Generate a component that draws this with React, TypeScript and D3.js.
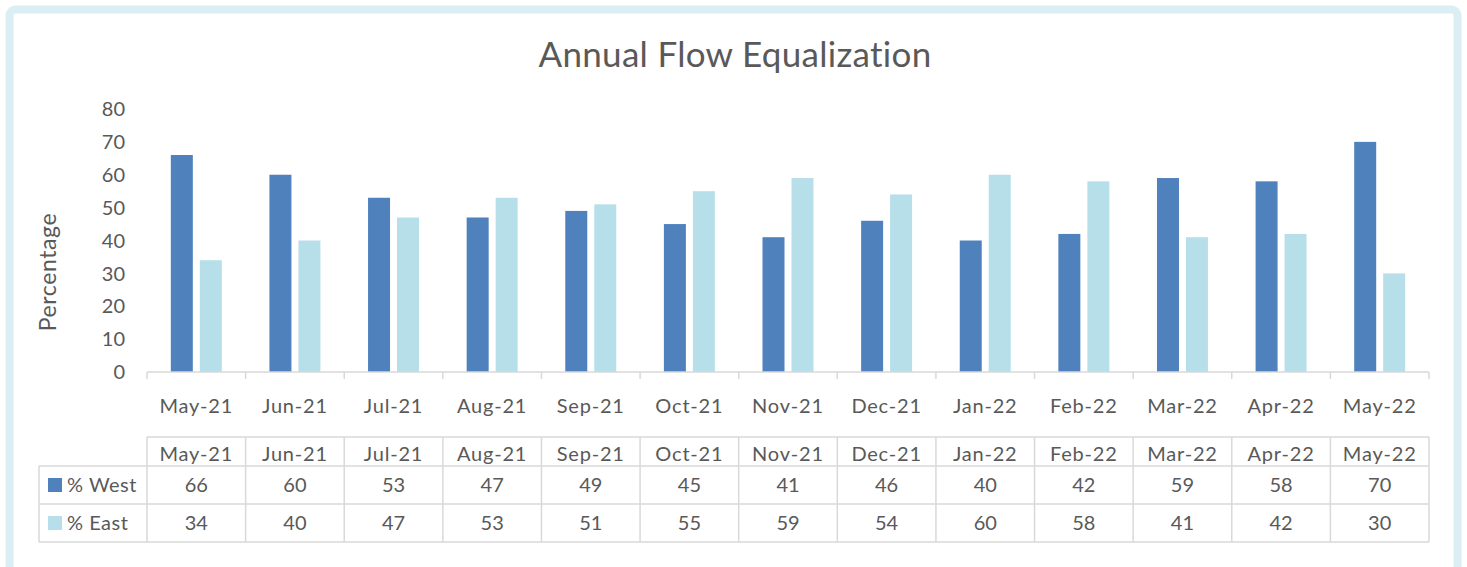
import React from 'react'
import * as d3 from 'd3'

// chart data
const categories = ['May-21', 'Jun-21', 'Jul-21', 'Aug-21', 'Sep-21', 'Oct-21', 'Nov-21', 'Dec-21', 'Jan-22', 'Feb-22', 'Mar-22', 'Apr-22', 'May-22']
const westValues = [66, 60, 53, 47, 49, 45, 41, 46, 40, 42, 59, 58, 70]
const eastValues = [34, 40, 47, 53, 51, 55, 59, 54, 60, 58, 41, 42, 30]
const seriesNames = ['% West', '% East']
const yTicks = [0, 10, 20, 30, 40, 50, 60, 70, 80]

const W = 1467
const H = 567
const font = 'Lato, "Open Sans", sans-serif'
const textColor = '#595959'
const gridColor = '#d9d9d9'
const colors = ['#4f81bd', '#b7dfe9']

function App() {
  const x = d3.scaleBand<string>().domain(categories).range([147, 1429])
  const bw = x.bandwidth()
  const xSub = d3.scaleBand<string>().domain(seriesNames)
    .range([bw * 0.2415, bw * 0.7585]).paddingInner(0.241)
  const y = d3.scaleLinear().domain([0, 80]).range([372, 109])
  const series = [westValues, eastValues]

  const boundaries = categories.map(c => x(c) as number).concat([x.range()[1]])
  // table rows
  const tHead = 437
  const tRow1 = 466
  const tRow2 = 504
  const tBottom = 542
  const legendLeft = 39

  return (
    <div style={{ position: 'fixed', left: 0, top: 0 }}>
      <svg width={W} height={H} style={{ display: 'block', background: '#fff' }}>
        {/* frame */}
        <rect x={9.5} y={9.5} width={1448} height={H + 20} rx={6} fill="#fff" stroke="#dbeef4" strokeWidth={8} />

        <text x={735} y={67} textAnchor="middle" fontFamily={font} fontSize={35} letterSpacing={0.3} fill={textColor}>
          Annual Flow Equalization
        </text>

        <text transform="translate(56,272) rotate(-90)" textAnchor="middle" fontFamily={font} fontSize={23} letterSpacing={0.6} fill={textColor}>
          Percentage
        </text>

        {yTicks.map(t => (
          <text key={t} x={125} y={y(t)} dy="0.36em" textAnchor="end" fontFamily={font} fontSize={20} fill={textColor}>
            {t}
          </text>
        ))}

        {/* bars */}
        {series.map((vals, si) => vals.map((v, i) => (
          <rect key={si + '-' + i}
            x={(x(categories[i]) as number) + (xSub(seriesNames[si]) as number)}
            y={y(v)} width={xSub.bandwidth()} height={y(0) - y(v)} fill={colors[si]} />
        )))}

        {/* x axis */}
        <line x1={x.range()[0]} x2={x.range()[1]} y1={372} y2={372} stroke={gridColor} strokeWidth={1.5} />
        {boundaries.map((b, i) => (
          <line key={i} x1={b} x2={b} y1={372} y2={379} stroke={gridColor} strokeWidth={1.5} />
        ))}
        {categories.map(c => (
          <text key={c} x={(x(c) as number) + bw / 2} y={413} textAnchor="middle" fontFamily={font} fontSize={20} letterSpacing={0.8} fill={textColor}>
            {c}
          </text>
        ))}

        {/* data table */}
        <g stroke={gridColor} strokeWidth={1.5}>
          <line x1={x.range()[0]} x2={x.range()[1]} y1={tHead} y2={tHead} />
          {[tRow1, tRow2, tBottom].map(yy => (
            <line key={yy} x1={legendLeft} x2={x.range()[1]} y1={yy} y2={yy} />
          ))}
          {boundaries.map((b, i) => (
            <line key={i} x1={b} x2={b} y1={tHead} y2={tBottom} />
          ))}
          <line x1={legendLeft} x2={legendLeft} y1={tRow1} y2={tBottom} />
        </g>
        {categories.map(c => (
          <text key={c} x={(x(c) as number) + bw / 2} y={461} textAnchor="middle" fontFamily={font} fontSize={20} letterSpacing={0.8} fill={textColor}>
            {c}
          </text>
        ))}
        {series.map((vals, si) => {
          const rowTop = si === 0 ? tRow1 : tRow2
          const mid = (rowTop + (si === 0 ? tRow2 : tBottom)) / 2
          return (
            <g key={si}>
              <rect x={48} y={mid - 7} width={14} height={14} fill={colors[si]} />
              <text x={67} y={mid} dy="0.36em" fontFamily={font} fontSize={20} letterSpacing={0.5} fill={textColor}>
                {seriesNames[si]}
              </text>
              {vals.map((v, i) => (
                <text key={i} x={(x(categories[i]) as number) + bw / 2} y={mid} dy="0.36em" textAnchor="middle" fontFamily={font} fontSize={20} fill={textColor}>
                  {v}
                </text>
              ))}
            </g>
          )
        })}
      </svg>
    </div>
  )
}

export default App
